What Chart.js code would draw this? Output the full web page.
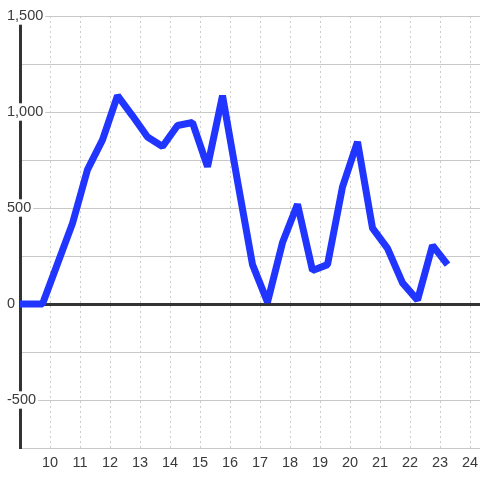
<!DOCTYPE html>
<html>
<head>
<meta charset="utf-8">
<script src="https://cdn.jsdelivr.net/npm/chart.js@4"></script>
<style>
  html, body { margin: 0; padding: 0; background: #fff; }
  #wrap { width: 480px; height: 480px; }
</style>
</head>
<body>
<div id="wrap"><canvas id="chart"></canvas></div>
<script>
// hours of day (decimal) and the values at those times
const hours = [9, 9.25, 9.75, 10.25, 10.75, 11.25, 11.75, 12.25, 12.75, 13.25,
  13.75, 14.25, 14.75, 15.25, 15.75, 16.25, 16.75, 17.25, 17.75, 18.25,
  18.75, 19.25, 19.75, 20.25, 20.75, 21.25, 21.75, 22.25, 22.75, 23.25];
const values = [0, 0, 0, 210, 420, 700, 855, 1085, 980, 870,
  820, 930, 945, 715, 1085, 640, 205, 10, 320, 520,
  175, 205, 610, 845, 395, 290, 110, 20, 305, 205];

// tick labels
const xTicks = [10, 11, 12, 13, 14, 15, 16, 17, 18, 19, 20, 21, 22, 23, 24];
const yTicks = [-750, -500, -250, 0, 250, 500, 750, 1000, 1250, 1500];

const points = hours.map((h, i) => ({ x: h, y: values[i] }));

const labelFont = { family: 'Liberation Sans, Arial, sans-serif', size: 14.5 };
const textColor = '#3a3a3a';

new Chart(document.getElementById('chart'), {
  type: 'line',
  data: {
    datasets: [{
      data: points,
      borderColor: '#2035ff',
      borderWidth: 7,
      borderJoinStyle: 'bevel',
      pointRadius: 0,
      tension: 0,
      fill: false,
    }],
  },
  options: {
    responsive: true,
    maintainAspectRatio: false,
    animation: false,
    layout: { padding: { top: 16, left: 7, right: 0, bottom: 0 } },
    plugins: { legend: { display: false }, tooltip: { enabled: false } },
    scales: {
      x: {
        type: 'linear',
        min: 9,
        max: 24.333,
        afterBuildTicks: (scale) => { scale.ticks = xTicks.map((v) => ({ value: v })); },
        afterFit: (scale) => { scale.height = 32; scale.paddingLeft = 0; scale.paddingRight = 0; },
        grid: { color: '#cccccc', lineWidth: 1, drawTicks: false },
        border: { display: false, dash: [2, 3] },
        ticks: { font: labelFont, color: textColor, padding: 6, maxRotation: 0, autoSkip: false },
      },
      y: {
        type: 'linear',
        min: -750,
        max: 1500,
        afterBuildTicks: (scale) => { scale.ticks = yTicks.map((v) => ({ value: v })); },
        afterFit: (scale) => { scale.width = 13; scale.paddingTop = 0; scale.paddingBottom = 0; },
        grid: {
          drawTicks: false,
          color: (ctx) => (ctx.tick && ctx.tick.value === 0 ? '#333333' : '#c8c8c8'),
          lineWidth: (ctx) => (ctx.tick && ctx.tick.value === 0 ? 3 : 1),
        },
        border: { display: true, color: '#333333', width: 3 },
        ticks: {
          font: labelFont,
          color: textColor,
          mirror: true,
          crossAlign: 'near',
          padding: -13,
          autoSkip: false,
          showLabelBackdrop: true,
          backdropColor: (ctx) => (ctx.tick && ctx.tick.value % 500 === 0 ? '#ffffff' : 'rgba(0,0,0,0)'),
          backdropPadding: { top: 0, bottom: 0, left: 2, right: 2 },
          callback: (value) => (value % 500 === 0 ? value.toLocaleString('en-US') : ''),
        },
      },
    },
  },
});
</script>
</body>
</html>
